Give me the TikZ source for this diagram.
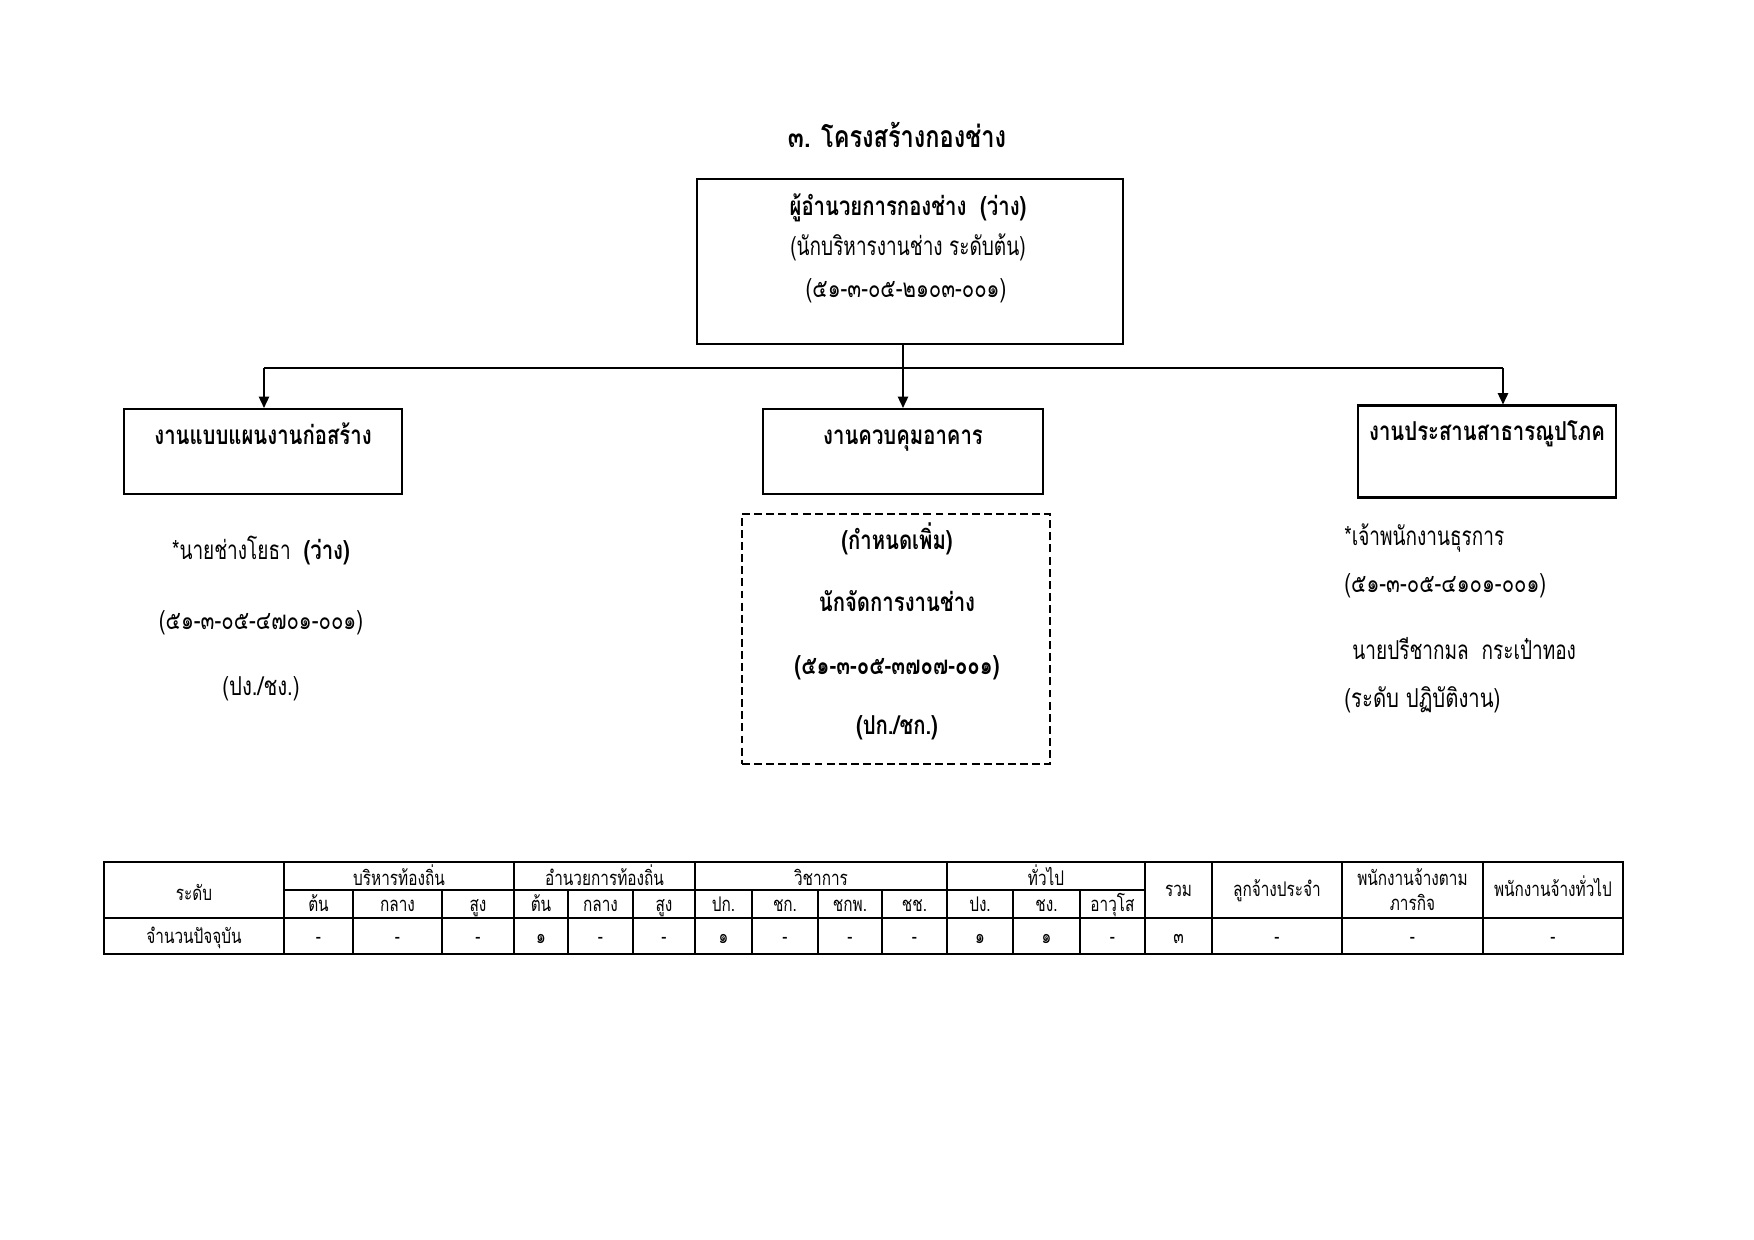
\documentclass[tikz,border=0pt]{standalone}
\usepackage{fontspec}
\newfontfamily\thai[Script=Thai,FakeStretch=0.78]{Loma}
\newfontfamily\thainar[Script=Thai,FakeStretch=0.73]{Loma}
\newfontfamily\thaitab[Script=Thai,FakeStretch=0.76]{Loma}
\usetikzlibrary{arrows.meta}
\newcommand\mainf{\thai\fontsize{12.5}{15}\selectfont}
\newcommand\narf{\thainar\fontsize{12.5}{15}\selectfont}
\newcommand\titf{\thai\bfseries\fontsize{14.5}{17}\selectfont}
\newcommand\tabf{\thaitab\fontsize{9.7}{12}\selectfont}
\tikzset{
  box/.style 2 args={draw, line width=1pt, minimum width=#1*0.48pt, minimum height=#2*0.48pt, inner sep=0pt},
  dbox/.style 2 args={draw, line width=0.9pt, dash pattern=on 3.8pt off 2pt, minimum width=#1*0.48pt, minimum height=#2*0.48pt, inner sep=0pt},
  txt/.style={anchor=base, inner sep=0pt, font=\mainf},
  ntxt/.style={anchor=base, inner sep=0pt, font=\narf},
  btxt/.style={txt, font=\mainf\bfseries},
  ltxt/.style={anchor=base west, inner sep=0pt, font=\mainf},
  nltxt/.style={anchor=base west, inner sep=0pt, font=\narf},
  ttxt/.style={anchor=base, inner sep=0pt, font=\tabf},
  conn/.style={line width=0.8pt},
  arr/.style={conn, -{Triangle[length=5.5pt,width=5pt]}},
  tline/.style={line width=0.6pt},
}
\begin{document}
\begin{tikzpicture}[x=0.48pt,y=-0.48pt]
\useasboundingbox (0,0) rectangle (1754,1240);
% title
\node[txt, font=\titf] (title) at (897,148) {๓. โครงสร้างกองช่าง};
% main box
\node[box={426}{165}] (main) at (910,261.5) {};
\node[btxt] (m1) at (908,215.5) {ผู้อำนวยการกองช่าง\ \ (ว่าง)};
\node[ntxt] (m2) at (908,256) {(นักบริหารงานช่าง ระดับต้น)};
\node[txt] (m3) at (906,297.5) {(๕๑-๓-๐๕-๒๑๐๓-๐๐๑)};
% sub boxes
\node[box={278}{85}] (left) at (263,451.5) {};
\node[box={280}{85}] (mid) at (903,451.5) {};
\node[box={258}{92}] (right) at (1487,451.5) {};
\node[btxt] (lt) at (263,444) {งานแบบแผนงานก่อสร้าง};
\node[btxt] (mt) at (903,444) {งานควบคุมอาคาร};
\node[btxt] (rt) at (1487,440) {งานประสานสาธารณูปโภค};
% connectors
\coordinate (hl) at (264,368);
\coordinate (hr) at (1503,368);
\draw[arr] (mid.north |- main.south) -- (mid.north);
\draw[conn] (hl) -- (hr);
\draw[arr] (hl) -- (hl |- left.north);
\draw[arr] (hr) -- (hr |- right.north);
% left texts
\node[ntxt] (l1) at (261,559) {*นายช่างโยธา\ \ {\thai\bfseries(ว่าง)}};
\node[txt] (l2) at (261,629) {(๕๑-๓-๐๕-๔๗๐๑-๐๐๑)};
\node[txt] (l3) at (261,695) {(ปง./ชง.)};
% dashed box
\node[dbox={308}{250}] (dash) at (896,639) {};
\node[btxt] (d1) at (897,549) {(กำหนดเพิ่ม)};
\node[btxt] (d2) at (897,611) {นักจัดการงานช่าง};
\node[btxt] (d3) at (897,674) {(๕๑-๓-๐๕-๓๗๐๗-๐๐๑)};
\node[btxt] (d4) at (897,734) {(ปก./ชก.)};
% right texts
\node[nltxt] (r1) at (1344,545) {*เจ้าพนักงานธุรการ};
\node[ltxt] (r2) at (1344,592) {(๕๑-๓-๐๕-๔๑๐๑-๐๐๑)};
\node[nltxt] (r3) at (1352,659) {นายปรีชากมล\ \ กระเป๋าทอง};
\node[ltxt] (r4) at (1344,707) {(ระดับ ปฏิบัติงาน)};
% table
\draw[tline, line width=0.8pt] (104,862) rectangle (1623,954);
\draw[tline] (104,918) -- (1623,918);
\draw[tline] (284,890) -- (1145,890);
\foreach \x in {284,514,695,947,1145,1212,1342,1483}
  \draw[tline] (\x,862) -- (\x,954);
\foreach \x in {353,442,568,633,752,818,882,1013,1080}
  \draw[tline] (\x,890) -- (\x,954);
\node[ttxt] (hlev) at (194,900) {ระดับ};
\node[ttxt] (hcur) at (194,943) {จำนวนปัจจุบัน};
\foreach \x/\t [count=\i] in {399/บริหารท้องถิ่น, 604.5/อำนวยการท้องถิ่น, 821/วิชาการ, 1046/ทั่วไป}
  \node[ttxt] (g\i) at (\x,885) {\t};
\foreach \x/\t [count=\i] in {318.5/ต้น, 397.5/กลาง, 478/สูง, 541/ต้น, 600.5/กลาง, 664/สูง, 723.5/ปก., 785/ชก., 850/ชกพ., 914.5/ชช., 980/ปง., 1046.5/ชง., 1112.5/อาวุโส}
  \node[ttxt] (s\i) at (\x,911) {\t};
\node[ttxt] (hsum) at (1178.5,896) {รวม};
\node[ttxt] (hemp) at (1277,896) {ลูกจ้างประจำ};
\node[ttxt] (hmis1) at (1412.5,885) {พนักงานจ้างตาม};
\node[ttxt] (hmis2) at (1412.5,910) {ภารกิจ};
\node[ttxt] (hgen) at (1553,896) {พนักงานจ้างทั่วไป};
\foreach \x/\t [count=\i] in {318.5/-, 397.5/-, 478/-, 541/๑, 600.5/-, 664/-, 723.5/๑, 785/-, 850/-, 914.5/-, 980/๑, 1046.5/๑, 1112.5/-, 1178.5/๓, 1277/-, 1412.5/-, 1553/-}
  \node[ttxt] (v\i) at (\x,943) {\t};
\end{tikzpicture}
\end{document}
